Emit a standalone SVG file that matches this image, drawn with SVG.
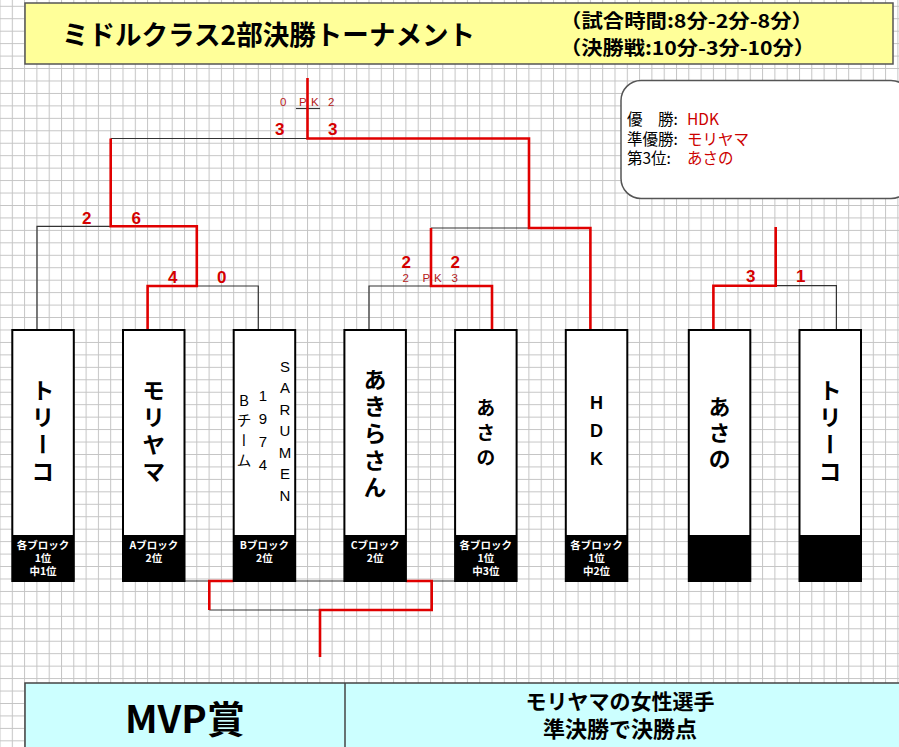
<svg xmlns="http://www.w3.org/2000/svg" width="899" height="747" viewBox="0 0 899 747">
<defs>
<pattern id="grid" patternUnits="userSpaceOnUse" x="-0.5" y="5.8" width="12.3" height="12.45">
<path d="M0.5 0V12.45M0 0.5H12.3" stroke="#c4c4c4" stroke-width="1" fill="none"/>
</pattern>
</defs>
<style>
.jp{font-family:"Noto Sans CJK JP","Liberation Sans",sans-serif}
.lat{font-family:"Liberation Sans","Noto Sans CJK JP",sans-serif}
.blk{stroke:#333;stroke-width:1.2;fill:none}
.red{stroke:#e00000;stroke-width:2.6;fill:none}
.box{fill:#fff;stroke:#000;stroke-width:2}
.lab{fill:#000}
.lt{fill:#fff;font-size:10.5px;font-weight:bold;text-anchor:middle}
.sc{fill:#d40000;font-size:17px;font-weight:bold}
.pk{fill:#b52020;font-size:11.5px}
.vn{font-weight:bold;text-anchor:middle;writing-mode:vertical-rl}
.vs{text-anchor:middle;writing-mode:vertical-rl;text-orientation:upright;font-size:15px}
.res{font-size:15.5px}
</style>
<rect width="899" height="747" fill="#fff"/>
<rect width="899" height="747" fill="url(#grid)"/>

<g id="title">
<rect x="25" y="3" width="868" height="61" fill="#ffff99" stroke="#555" stroke-width="1.5"/>
<text class="jp" x="62" y="45" font-size="27" font-weight="bold" textLength="413" lengthAdjust="spacingAndGlyphs">ミドルクラス2部決勝トーナメント</text>
<text class="jp" x="560" y="28" font-size="19" font-weight="bold" textLength="253" lengthAdjust="spacingAndGlyphs">（試合時間:8分-2分-8分）</text>
<text class="jp" x="560" y="55" font-size="19" font-weight="bold" textLength="255" lengthAdjust="spacingAndGlyphs">（決勝戦:10分-3分-10分）</text>
</g>

<g id="results">
<rect x="621" y="80.5" width="290" height="118" rx="20" ry="20" fill="#fff" stroke="#555" stroke-width="1.5"/>
<text class="jp res" x="627" y="125">優　勝:</text>
<text class="jp res" x="687" y="125" fill="#cc0000">HDK</text>
<text class="jp res" x="627" y="145">準優勝:</text>
<text class="jp res" x="687" y="145" fill="#cc0000">モリヤマ</text>
<text class="jp res" x="627" y="164">第3位:</text>
<text class="jp res" x="687" y="164" fill="#cc0000">あさの</text>
</g>

<g id="connectors">
<path class="blk" d="M37 330V226.3H110.7"/>
<path class="blk" d="M196.8 286H258.3V330"/>
<path class="blk" d="M110.7 138.5H307.5"/>
<path class="blk" d="M369 330V286H431"/>
<path class="blk" d="M431 228H529"/>
<path class="blk" d="M775.7 285.7H836.4V330"/>
<path class="blk" d="M185 581H455"/>
<path class="blk" d="M209.3 610H320"/>
<line x1="296" y1="108.5" x2="320" y2="108.5" stroke="#333" stroke-width="1.2"/>
<path class="red" d="M147.6 330V286H196.8V226.3H110.7V138.5"/>
<path class="red" d="M307.5 78V138.5H529V228H590.4V330"/>
<path class="red" d="M492 330V286H431V228"/>
<path class="red" d="M713.4 330V285.7H775.7V227"/>
<path class="red" d="M233.3 581H209.3V610"/>
<path class="red" d="M406 581H431.7V610H320V657"/>
</g>

<g id="scores">
<text class="lat sc" x="275" y="135">3</text>
<text class="lat sc" x="328" y="135">3</text>
<text class="lat pk" x="280" y="106">0</text>
<text class="lat pk" x="299" y="106">P</text>
<text class="lat pk" x="311" y="106">K</text>
<text class="lat pk" x="328" y="106">2</text>
<text class="lat sc" x="82" y="224">2</text>
<text class="lat sc" x="131.5" y="224">6</text>
<text class="lat sc" x="168" y="282.7">4</text>
<text class="lat sc" x="217" y="282.7">0</text>
<text class="lat sc" x="401.5" y="267.7">2</text>
<text class="lat sc" x="450.5" y="267.7">2</text>
<text class="lat pk" x="402.5" y="282.3">2</text>
<text class="lat pk" x="422.5" y="282.3">P</text>
<text class="lat pk" x="434" y="282.3">K</text>
<text class="lat pk" x="451.5" y="282.3">3</text>
<text class="lat sc" x="746" y="282.3">3</text>
<text class="lat sc" x="796" y="282.3">1</text>
</g>

<g id="team1">
<rect class="box" x="12.3" y="330" width="61.5" height="251"/>
<rect class="lab" x="12.3" y="535" width="61.5" height="46"/>
<text class="jp vn" x="43" y="433" font-size="23" letter-spacing="4">トリーコ</text>
<text class="jp lt" x="43" y="549">各ブロック</text>
<text class="jp lt" x="43" y="562">1位</text>
<text class="jp lt" x="43" y="575">中1位</text>
</g>
<g id="team2">
<rect class="box" x="123" y="330" width="61.5" height="251"/>
<rect class="lab" x="123" y="535" width="61.5" height="46"/>
<text class="jp vn" x="153.8" y="433" font-size="23" letter-spacing="4">モリヤマ</text>
<text class="jp lt" x="153.8" y="549">Aブロック</text>
<text class="jp lt" x="153.8" y="562">2位</text>
</g>
<g id="team3">
<rect class="box" x="233.7" y="330" width="61.5" height="251"/>
<rect class="lab" x="233.7" y="535" width="61.5" height="46"/>
<text class="lat vs" x="285" y="433" letter-spacing="4.5">SARUMEN</text>
<text class="lat vs" x="263" y="433" letter-spacing="6">1974</text>
<text class="jp vs" x="244" y="433" letter-spacing="5">Bチーム</text>
<text class="jp lt" x="264.4" y="549">Bブロック</text>
<text class="jp lt" x="264.4" y="562">2位</text>
</g>
<g id="team4">
<rect class="box" x="344.4" y="330" width="61.5" height="251"/>
<rect class="lab" x="344.4" y="535" width="61.5" height="46"/>
<text class="jp vn" x="375.1" y="435" font-size="23" letter-spacing="4">あきらさん</text>
<text class="jp lt" x="375.1" y="549">Cブロック</text>
<text class="jp lt" x="375.1" y="562">2位</text>
</g>
<g id="team5">
<rect class="box" x="455.1" y="330" width="61.5" height="251"/>
<rect class="lab" x="455.1" y="535" width="61.5" height="46"/>
<text class="jp vn" x="485.8" y="436" font-size="19" letter-spacing="6">あさの</text>
<text class="jp lt" x="485.8" y="549">各ブロック</text>
<text class="jp lt" x="485.8" y="562">1位</text>
<text class="jp lt" x="485.8" y="575">中3位</text>
</g>
<g id="team6">
<rect class="box" x="565.8" y="330" width="61.5" height="251"/>
<rect class="lab" x="565.8" y="535" width="61.5" height="46"/>
<text class="lat vn" x="596.5" y="435" font-size="18" letter-spacing="8" style="text-orientation:upright">HDK</text>
<text class="jp lt" x="596.5" y="549">各ブロック</text>
<text class="jp lt" x="596.5" y="562">1位</text>
<text class="jp lt" x="596.5" y="575">中2位</text>
</g>
<g id="team7">
<rect class="box" x="688.8" y="330" width="61.5" height="251"/>
<rect class="lab" x="688.8" y="535" width="61.5" height="46"/>
<text class="jp vn" x="719.5" y="435" font-size="22" letter-spacing="4">あさの</text>
</g>
<g id="team8">
<rect class="box" x="799.5" y="330" width="61.5" height="251"/>
<rect class="lab" x="799.5" y="535" width="61.5" height="46"/>
<text class="jp vn" x="830.2" y="433" font-size="23" letter-spacing="4">トリーコ</text>
</g>

<g id="mvp">
<rect x="25" y="683" width="890" height="80" fill="#ccffff" stroke="#444" stroke-width="1.5"/>
<line x1="345" y1="683" x2="345" y2="747" stroke="#444" stroke-width="1.5"/>
<text class="jp" x="125" y="733" font-size="38" font-weight="bold" textLength="120" lengthAdjust="spacingAndGlyphs">MVP賞</text>
<text class="jp" x="620" y="709" font-size="21" font-weight="bold" text-anchor="middle">モリヤマの女性選手</text>
<text class="jp" x="620" y="737" font-size="22" font-weight="bold" text-anchor="middle">準決勝で決勝点</text>
</g>
</svg>
